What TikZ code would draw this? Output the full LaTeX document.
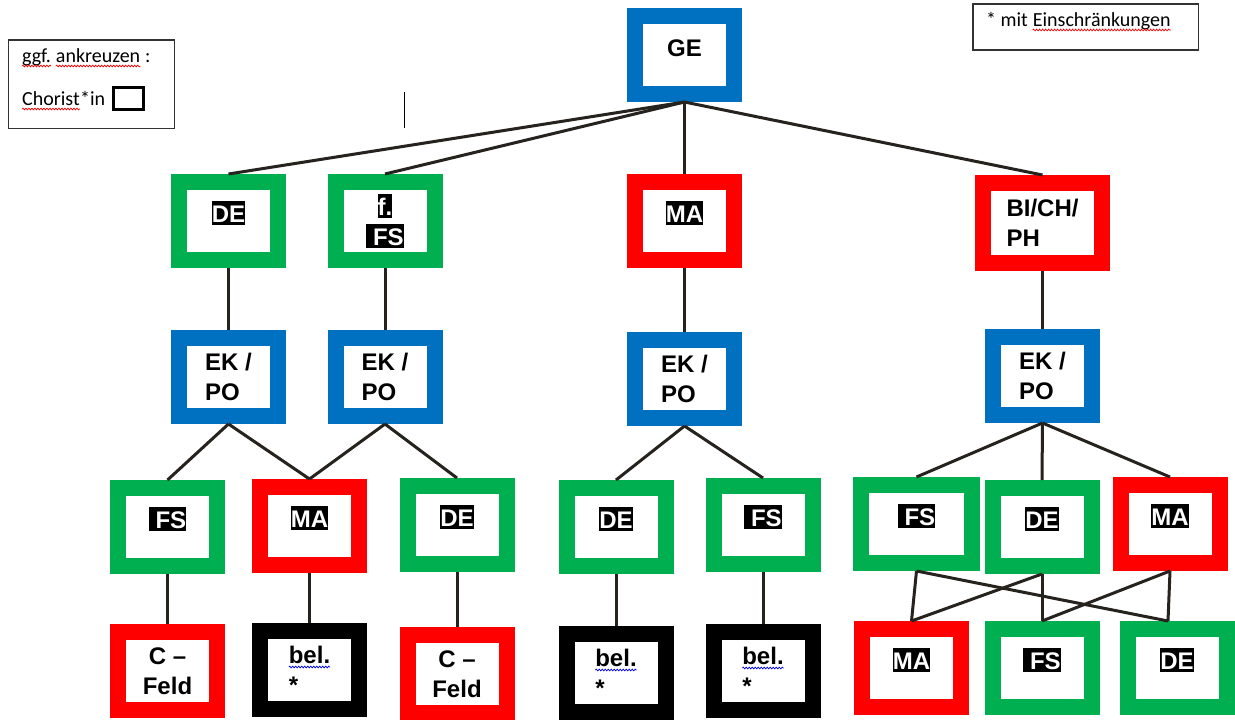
\documentclass[tikz,border=0pt]{standalone}
\usepackage{fontspec}
\setmainfont{Liberation Sans}
\newfontfamily\notefont{Carlito}
\usetikzlibrary{positioning,decorations.pathmorphing}

\definecolor{geblue}{RGB}{0,112,192}
\definecolor{fgreen}{RGB}{0,176,80}
\definecolor{fred}{RGB}{255,0,0}
\definecolor{linkgray}{RGB}{38,34,30}

\newcommand\hlbox[1]{{\setlength{\fboxsep}{0pt}\colorbox{black}{\rule[-3pt]{0pt}{24pt}\textcolor{white}{#1}}}}

\begin{document}
\begin{tikzpicture}[x=1pt, y=-1pt, node distance = 50pt and 5pt,
    fach/.style={rectangle,line width=16pt,outer sep=8pt,fill=white,minimum width=99pt,minimum height=78pt,font=\bfseries\fontsize{24}{30}\selectfont},
    oneline/.style={text height=21pt,text depth=19pt},
    link/.style={line width=3pt,linkgray},
    notebox/.style={rectangle,draw=black!80,line width=1.5pt},
    notetext/.style={inner sep=0pt,anchor=base west,font=\notefont\fontsize{20}{24}\selectfont},
    squig/.style={line width=0.7pt,decorate,decoration={snake,amplitude=0.9pt,segment length=3pt}},
   ]
    \useasboundingbox[fill=white] (0,0) rectangle (1235,720);

    % hints
    \node (hint)     [notebox,minimum width=166pt,minimum height=88.5pt] at (91.5,84) {};
    \node (ggf)      [notetext] at (22,62) {ggf.};
    \node (ankr)     [notetext,xshift=4.5pt] at (ggf.base east) {ankreuzen};
    \node (colon)    [notetext,xshift=4.5pt] at (ankr.base east) {:};
    \node (chorist)  [notetext] at (22,105) {Chorist};
    \node (starin)   [notetext] at (chorist.base east) {*in};
    \node (tickbox)  [rectangle,draw=black,line width=3pt,minimum width=30pt,minimum height=22pt] at (128.5,98) {};
    \node (limit)    [notebox,minimum width=225.5pt,minimum height=46pt] at (1085.8,27) {};
    \node (mit)      [notetext] at (986,26) {* mit};
    \node (einschr)  [notetext,xshift=4.5pt] at (mit.base east) {Einschränkungen};
    \draw[black, line width=1pt] (404,92) -- (404,128);

    \draw[squig,red] ([yshift=-4pt]ggf.base west) -- ([yshift=-4pt]ggf.base east);
    \draw[squig,red] ([yshift=-4pt]ankr.base west) -- ([yshift=-4pt]ankr.base east);
    \draw[squig,red] ([yshift=-4pt]chorist.base west) -- ([yshift=-4pt]chorist.base east);
    \draw[squig,red] ([yshift=-4pt]einschr.base west) -- ([yshift=-4pt]einschr.base east);

    \node (ge)  [fach,oneline,draw=geblue] at (684.5,55) {GE};

    \node (de1) [fach,oneline,draw=fgreen] at (228.5,221) {\hlbox{DE}};
    \node (ffs) [fach,align=center,draw=fgreen] at (385,221) {\hlbox{f.}\\\hlbox{\ FS}};
    \node (ma1) [fach,oneline,draw=fred] at (684.5,221) {\hlbox{MA}};
    \node (bcp) [fach,align=left,draw=fred,minimum width=119pt,minimum height=80pt] at (1042.5,223) {BI/CH/\\PH};

    \node (ek1) [fach,align=left,draw=geblue,below=62pt of de1] {EK /\\PO};
    \node (ek2) [fach,align=left,draw=geblue,below=62pt of ffs] {EK /\\PO};
    \node (ek3) [fach,align=left,draw=geblue,below=64pt of ma1] {EK /\\PO};
    \node (ek4) [fach,align=left,draw=geblue,below=58pt of bcp] {EK /\\PO};

    \node (fsa) [fach,oneline,draw=fgreen] at (167.5,527) {\hlbox{\ FS}};
    \node (maa) [fach,oneline,draw=fred] at (309.5,526) {\hlbox{MA}};
    \node (dea) [fach,oneline,draw=fgreen] at (457,525) {\hlbox{DE}};
    \node (deb) [fach,oneline,draw=fgreen] at (616,527) {\hlbox{DE}};
    \node (fsb) [fach,oneline,draw=fgreen] at (763,525) {\hlbox{\ FS}};
    \node (fsc) [fach,oneline,draw=fgreen,minimum width=111pt] at (916.5,524) {\hlbox{\ FS}};
    \node (dec) [fach,oneline,draw=fgreen] at (1042,527) {\hlbox{DE}};
    \node (mac) [fach,oneline,draw=fred] at (1170,524) {\hlbox{MA}};

    \node (cfa)  [fach,align=center,draw=fred,below=of fsa] {C –\\Feld};
    \node (bela) [fach,align=left,draw=black,below=of maa] {bel.\\*};
    \node (cfb)  [fach,align=center,draw=fred,below=55pt of dea] {C –\\Feld};
    \node (belb) [fach,align=left,draw=black,below=52pt of deb] {bel.\\*};
    \node (belc) [fach,align=left,draw=black,below=52pt of fsb] {bel.\\*};
    \node (mad)  [fach,oneline,draw=fred,below=of fsc,xshift=-5pt] {\hlbox{MA}};
    \node (fsd)  [fach,oneline,draw=fgreen,below=47pt of dec] {\hlbox{\ FS}};
    \node (ded)  [fach,oneline,draw=fgreen,below=of mac,xshift=7pt] {\hlbox{DE}};

    \draw[squig,blue] ([xshift=-20.7pt,yshift=3pt]bela.center) -- ([xshift=20.7pt,yshift=3pt]bela.center);
    \draw[squig,blue] ([xshift=-20.7pt,yshift=3pt]belb.center) -- ([xshift=20.7pt,yshift=3pt]belb.center);
    \draw[squig,blue] ([xshift=-20.7pt,yshift=3pt]belc.center) -- ([xshift=20.7pt,yshift=3pt]belc.center);

    \draw[link] (ge.south) -- (de1.north);
    \draw[link] (ge.south) -- (ffs.north);
    \draw[link] (ge.south) -- (ma1.north);
    \draw[link] (ge.south) -- (bcp.north);

    \draw[link] (de1.south) -- (ek1.north);
    \draw[link] (ffs.south) -- (ek2.north);
    \draw[link] (ma1.south) -- (ek3.north);
    \draw[link] (bcp.south) -- (ek4.north);

    \draw[link] (ek1.south) -- (fsa.north);
    \draw[link] (ek1.south) -- (maa.north);
    \draw[link] (ek2.south) -- (maa.north);
    \draw[link] (ek2.south) -- (dea.north);
    \draw[link] (ek3.south) -- (deb.north);
    \draw[link] (ek3.south) -- (fsb.north);
    \draw[link] (ek4.south) -- (fsc.north);
    \draw[link] (ek4.south) -- (dec.north);
    \draw[link] (ek4.south) -- (mac.north);

    \draw[link] (fsa.south) -- (cfa.north);
    \draw[link] (maa.south) -- (bela.north);
    \draw[link] (dea.south) -- (cfb.north);
    \draw[link] (deb.south) -- (belb.north);
    \draw[link] (fsb.south) -- (belc.north);

    \draw[link] (fsc.south) -- (mad.north);
    \draw[link] (fsc.south) -- ([xshift=-9pt]ded.north);
    \draw[link] (dec.south) -- (mad.north);
    \draw[link] (dec.south) -- (fsd.north);
    \draw[link] (mac.south) -- (fsd.north);
    \draw[link] (mac.south) -- ([xshift=-9pt]ded.north);
  \end{tikzpicture}
\end{document}
